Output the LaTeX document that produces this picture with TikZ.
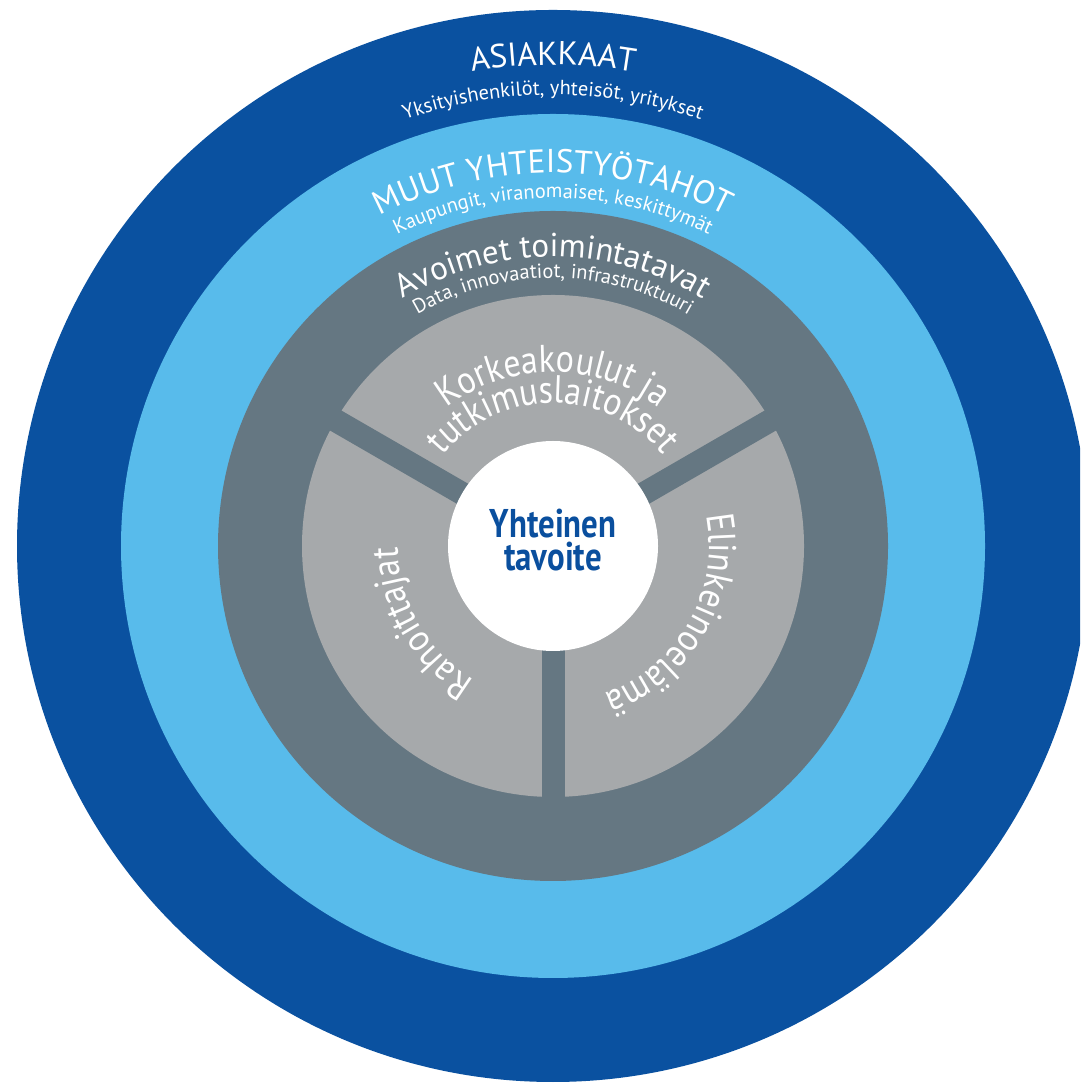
\documentclass[tikz,border=0pt]{standalone}
\usepackage{fontspec}
\setmainfont{PT Sans}
\newfontfamily\goalfont[FakeStretch=0.82]{PT Sans Bold}
\newfontfamily\sectorfamily[FakeStretch=0.88]{PT Sans}
\usetikzlibrary{decorations.text}
\definecolor{asiakasblue}{HTML}{0A51A0}
\definecolor{partnerblue}{HTML}{58BBEB}
\definecolor{openslate}{HTML}{657782}
\definecolor{sectorgray}{HTML}{A6A9AB}
\definecolor{goalblue}{HTML}{0A4F9E}
\newcommand{\bigring}{\fontsize{9.4}{9.4}\selectfont}
\newcommand{\smallring}{\fontsize{5.8}{5.8}\selectfont}
\newcommand{\sectorfont}{\sectorfamily\fontsize{11}{11}\selectfont}

\begin{document}
\begin{tikzpicture}[
                    ringtext/.style = {decorate, decoration = {text along path, text align = center,
                                       text color = white, text = {#1}}},
                    bar/.style = {draw = openslate, line width = 0.23cm},
                    goal/.style = {circle, fill = white, minimum size = 2.1cm, inner sep = 0pt,
                                   align = center, text = goalblue,
                                   font = \goalfont\fontsize{11.4}{9.4}\selectfont}]
                \useasboundingbox (0,0) rectangle (10.80,10.83);
                \clip (0,0) rectangle (10.80,10.83);
                \coordinate (c) at (5.53,5.37);
                \fill[asiakasblue] (c) circle[radius=5.36];
                \fill[partnerblue] (c) circle[radius=4.32];
                \fill[openslate] (c) circle[radius=3.35];
                \fill[sectorgray] (c) circle[radius=2.51];
                \foreach \a in {30,150,270}
                    \draw[bar] (c) -- ++(\a:2.6);
                \node[goal] (goal) at (c) {};
                \node[align = center, text = goalblue, font = \goalfont\fontsize{11.4}{9.4}\selectfont]
                    (goaltext) at ([yshift=0.06cm]goal.center) {Yhteinen\\tavoite};
                \path[ringtext={|\bigring|ASIAKKAAT}] (c) ++(170:4.81) arc[start angle=170, end angle=10, radius=4.81];
                \path[ringtext={|\smallring|Yksityishenkilöt, yhteisöt, yritykset}] (c) ++(170:4.51) arc[start angle=170, end angle=10, radius=4.51];
                \path[ringtext={|\bigring|MUUT YHTEISTYÖTAHOT}] (c) ++(170:3.73) arc[start angle=170, end angle=10, radius=3.73];
                \path[ringtext={|\smallring|Kaupungit, viranomaiset, keskittymät}] (c) ++(170:3.48) arc[start angle=170, end angle=10, radius=3.48];
                \path[ringtext={|\bigring|Avoimet toimintatavat}] (c) ++(170:2.89) arc[start angle=170, end angle=10, radius=2.89];
                \path[ringtext={|\smallring|Data, innovaatiot, infrastruktuuri}] (c) ++(170:2.68) arc[start angle=170, end angle=10, radius=2.68];
                \path[ringtext={|\sectorfont|Korkeakoulut ja}] (c) ++(180:1.74) arc[start angle=180, end angle=0, radius=1.74];
                \path[ringtext={|\sectorfont|tutkimuslaitokset}] (c) ++(180:1.43) arc[start angle=180, end angle=0, radius=1.43];
                \path[ringtext={|\sectorfont|Elinkeinoelämä}] (c) ++(60:1.56) arc[start angle=60, end angle=-120, radius=1.56];
                \path[ringtext={|\sectorfont|Rahoittajat}] (c) ++(300:1.55) arc[start angle=300, end angle=120, radius=1.55];
                \end{tikzpicture}
\end{document}
